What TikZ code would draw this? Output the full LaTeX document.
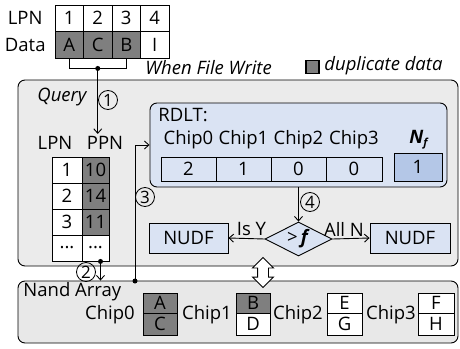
\documentclass[tikz,border=0pt]{standalone}
\usepackage{fontspec}
\setmainfont{Open Sans}
\usetikzlibrary{arrows.meta,shapes.geometric,shapes.arrows}
\definecolor{dgray}{HTML}{7F7F7F}
\definecolor{qgray}{HTML}{EBEBEB}
\definecolor{ngray}{HTML}{E8E8E8}
\definecolor{lblue}{HTML}{DAE3F3}
\definecolor{mblue}{HTML}{B4C7E7}
\begin{document}
\begin{tikzpicture}[x=1pt,y=-1pt,
  font=\fontsize{18.5pt}{22pt}\selectfont,
  every path/.style={line width=0.9pt},
  cell/.style={draw, line width=0.9pt, inner sep=0pt, anchor=center},
  dark/.style={fill=dgray},
  panel/.style={draw, line width=0.9pt, rounded corners=7pt, inner sep=0pt},
  arr/.style={-{Straight Barb[length=4.5pt,width=8pt]}},
  dot/.style={circle, fill=black, inner sep=0pt, minimum size=5pt},
  num/.style={circle, draw, line width=0.8pt, inner sep=0pt, minimum size=19pt, font=\fontsize{17pt}{17pt}\selectfont},
  bluebox/.style={draw, line width=0.9pt, fill=lblue, inner sep=0pt},
  lbl/.style={inner sep=0pt}]
\useasboundingbox[fill=white] (0,0) rectangle (460,348);

% ---------- panels ----------
\node[panel, fill=qgray, minimum width=440pt, minimum height=186pt] (query) at (238,173) {};
\node[panel, fill=ngray, minimum width=440pt, minimum height=62pt] (nand) at (238,312) {};

% ---------- top table ----------
\node[lbl, anchor=east] (lpnlab) at (43,18.25) {LPN};
\node[lbl, anchor=east] (datalab) at (46,44.75) {Data};
\foreach \i/\x/\t in {1/69.25/1,2/97.75/2,3/126.25/3,4/154.75/4}{
  \node[cell, fill=white, minimum width=28.5pt, minimum height=26.5pt] (t\i) at (\x,18.25) {\t};
}
\node[cell, dark, minimum width=28.5pt, minimum height=26.5pt] (d1) at (69.25,44.75) {A};
\node[cell, dark, minimum width=28.5pt, minimum height=26.5pt] (d2) at (97.75,44.75) {C};
\node[cell, dark, minimum width=28.5pt, minimum height=26.5pt] (d3) at (126.25,44.75) {B};
\node[cell, fill=white, minimum width=28.5pt, minimum height=26.5pt] (d4) at (154.75,44.75) {I};

\node[lbl, anchor=west] (wfw) at (145,68) {\itshape When File Write};
\node[draw, fill=dgray, line width=1.3pt, minimum size=13pt, inner sep=0pt] (leg) at (312.5,67) {};
\node[lbl, anchor=west] (legtxt) at (324,66) {\itshape duplicate data};

% bracket
\coordinate (br) at ([yshift=-10pt]d2.south);
\draw (d1.south) |- (br) -| (d3.south);

% ---------- query contents ----------
\node[lbl] (qlab) at (62,97) {\itshape Query};
\node[lbl] (lpn2) at (55,143) {LPN};
\node[lbl] (ppn) at (105,143) {PPN};
\draw[arr] (br) -- ([yshift=2pt]br |- ppn.north);
\node[dot] (brdot) at (br) {};
\node[num] (n1) at (108,100) {1};

\foreach \r/\y/\a/\b in {1/170/1/10,2/196/2/14,3/222/3/11}{
  \node[cell, fill=white, minimum width=30pt, minimum height=26pt] (ml\r) at (67,\y) {\a};
  \node[cell, dark, minimum width=27pt, minimum height=26pt] (mr\r) at (95.5,\y) {\b};
}
\node[cell, fill=white, minimum width=30pt, minimum height=26pt] (ml4) at (67,248) {...};
\node[cell, fill=white, minimum width=27pt, minimum height=26pt] (mr4) at (95.5,248) {...};

% arrow 2
\coordinate (c2) at ([xshift=5pt]mr4.south);
\draw[arr] (c2) -- (c2 |- nand.north);
\node[dot] (c2dot) at (c2) {};
\node[num] (n2) at (86,272) {2};

% RDLT
\node[draw, line width=0.9pt, rounded corners=7pt, fill=lblue, minimum width=297pt, minimum height=84pt] (rdlt) at (298.5,145) {};
\node[lbl, anchor=west] (rdltlab) at (158,115) {RDLT:};
\foreach \i/\x in {0/188.5,1/243.5,2/298.5,3/354}{
  \node[lbl] (ch\i) at (\x,140) {Chip\i};
}
\node[cell, fill=lblue, minimum width=55pt, minimum height=24pt] (r0) at (188.5,169) {2};
\node[cell, fill=lblue, minimum width=55pt, minimum height=24pt] (r1) at (243.5,169) {1};
\node[cell, fill=lblue, minimum width=55pt, minimum height=24pt] (r2) at (298.5,169) {0};
\node[cell, fill=lblue, minimum width=56pt, minimum height=24pt] (r3) at (354,169) {0};
\node[lbl] (nflab) at (419,140) {\textbf{\textit{N}}\raisebox{-3pt}{\fontsize{11pt}{11pt}\selectfont\textbf{\textit{f}}}};
\node[cell, fill=mblue, minimum width=48pt, minimum height=28pt] (nf) at (418,167) {1};

% arrow 3
\coordinate (c3) at (135,281);
\draw[arr] (c3) |- (rdlt.west);
\node[dot] (c3dot) at (c3) {};
\node[num] (n3) at (145,197) {3};

% decision
\node[diamond, draw, line width=0.9pt, fill=lblue, inner sep=0pt, aspect=2, minimum width=67pt, minimum height=34pt] (dia) at (298.5,239) {>\,\textbf{\textit{f}}};
\draw[arr] (rdlt.south) -- (dia.north);
\node[num] (n4) at (310,202) {4};
\node[bluebox, minimum width=79pt, minimum height=30pt] (nudfl) at (188.5,238) {NUDF};
\node[bluebox, minimum width=80pt, minimum height=30pt] (nudfr) at (410,238) {NUDF};
\draw[arr] (dia.west) -- node[midway, above, inner sep=2pt, xshift=5pt] {Is Y} (nudfl.east);
\draw[arr] (dia.east) -- node[midway, above, inner sep=2pt, xshift=-7pt] {All N} (nudfr.west);

% double arrow
\node[double arrow, draw, line width=0.9pt, fill=white, rotate=90, inner sep=5pt, minimum height=30pt, double arrow head extend=5pt] (dbl) at (263,272.5) {};

% ---------- nand contents ----------
\node[lbl, anchor=west] (nandlab) at (23,292) {Nand Array};
\node[lbl] (k0) at (110,315) {Chip0};
\node[cell, dark, minimum width=34pt, minimum height=20pt] (a0) at (160,303) {A};
\node[cell, dark, minimum width=34pt, minimum height=22pt] (b0) at (160,324) {C};
\node[lbl] (k1) at (207,315) {Chip1};
\node[cell, dark, minimum width=34pt, minimum height=20pt] (a1) at (253,303) {B};
\node[cell, fill=white, minimum width=34pt, minimum height=22pt] (b1) at (253,324) {D};
\node[lbl] (k2) at (298,315) {Chip2};
\node[cell, fill=white, minimum width=35pt, minimum height=20pt] (a2) at (344.5,303) {E};
\node[cell, fill=white, minimum width=35pt, minimum height=22pt] (b2) at (344.5,324) {G};
\node[lbl] (k3) at (391,315) {Chip3};
\node[cell, fill=white, minimum width=36pt, minimum height=20pt] (a3) at (436,303) {F};
\node[cell, fill=white, minimum width=36pt, minimum height=22pt] (b3) at (436,324) {H};
\end{tikzpicture}
\end{document}
